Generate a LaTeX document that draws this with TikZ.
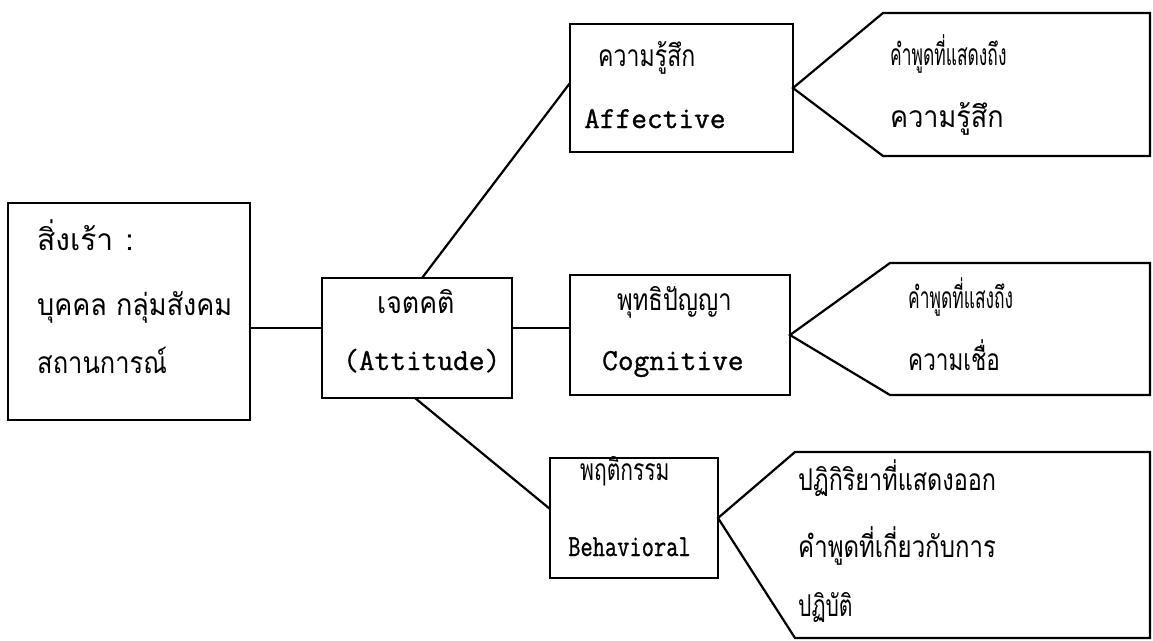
\documentclass[tikz,border=0pt]{standalone}
\usepackage{fontspec}
\newfontfamily\thaifont[Script=Thai]{Loma}
\newfontfamily\typefont[FakeBold=1]{Latin Modern Mono}
\newcommand\hsq[2]{\scalebox{#1}[1]{#2}}
\begin{document}
\begin{tikzpicture}[x=1pt,y=-1pt,
  box/.style={draw=black,line width=2.2pt,inner sep=0pt,outer sep=0pt},
  callout/.style={draw=black,line width=2.2pt,line join=miter},
  link/.style={draw=black,line width=2.2pt},
  th/.style={anchor=base west,inner sep=0pt,font=\thaifont\fontsize{30}{36}\selectfont},
  en/.style={anchor=base west,inner sep=0pt,font=\typefont\fontsize{30.5}{36}\selectfont}]
\useasboundingbox (0,0) rectangle (1153,640);
% boxes
\node[box,minimum width=242pt,minimum height=217pt] (stim) at (129,311.5) {};
\node[box,minimum width=190pt,minimum height=120pt] (att) at (417,338) {};
\node[box,minimum width=223pt,minimum height=128pt] (aff) at (681.5,88) {};
\node[box,minimum width=220pt,minimum height=120pt] (cog) at (680,335) {};
\node[box,minimum width=168pt,minimum height=120pt] (beh) at (634,518) {};
% callouts
\coordinate (a1) at (883,13);  \coordinate (a2) at (1150,13);
\coordinate (a3) at (1150,156); \coordinate (a4) at (883,156);
\draw[callout] (aff.east) -- (a1) -- (a2) -- (a3) -- (a4) -- cycle;
\coordinate (b1) at (890,263);  \coordinate (b2) at (1150,263);
\coordinate (b3) at (1150,395); \coordinate (b4) at (890,395);
\draw[callout] (cog.east) -- (b1) -- (b2) -- (b3) -- (b4) -- cycle;
\coordinate (c1) at (795,452);  \coordinate (c2) at (1150,452);
\coordinate (c3) at (1150,638); \coordinate (c4) at (795,638);
\draw[callout] (beh.east) -- (c1) -- (c2) -- (c3) -- (c4) -- cycle;
% connectors
\coordinate (mid) at (0,328);
\draw[link] (stim.east |- mid) -- (att.west |- mid);
\draw[link] (att.east |- mid) -- (cog.west |- mid);
\draw[link] ([xshift=5pt]att.north) -- ([yshift=5pt]aff.west);
\draw[link] ([xshift=-2pt]att.south) -- ([yshift=9pt]beh.west);
% texts
\node[th] (t1) at (37,250) {สิ่งเร้า\hspace{12pt}:};
\node[th] (t2) at (37,315) {\hsq{0.9}{บุคคล กลุ่มสังคม}};
\node[th] (t3) at (37,373) {\hsq{0.85}{สถานการณ์}};
\node[th] (t4) at (377,313) {\hsq{0.89}{เจตคติ}};
\node[en] (t5) at (343,370) {(Attitude)};
\node[th] (t6) at (598,66) {\hsq{0.77}{ความรู้สึก}};
\node[en] (t7) at (584,128) {Affective};
\node[th] (t8) at (617,310) {\hsq{0.79}{พุทธิปัญญา}};
\node[en] (t9) at (602,370) {Cognitive};
\node[th] (t10) at (580,480) {\hsq{0.7}{พฤติกรรม}};
\node[en] (t11) at (568,556) {\hsq{0.78}{Behavioral}};
\node[th] (t12) at (890,65) {\hsq{0.58}{คำพูดที่แสดงถึง}};
\node[th] (t13) at (890,127) {\hsq{0.9}{ความรู้สึก}};
\node[th] (t14) at (908,308) {\hsq{0.58}{คำพูดที่แสงถึง}};
\node[th] (t15) at (908,370) {\hsq{0.75}{ความเชื่อ}};
\node[th] (t16) at (798,490) {\hsq{0.78}{ปฏิกิริยาที่แสดงออก}};
\node[th] (t17) at (798,557) {\hsq{0.8}{คำพูดที่เกี่ยวกับการ}};
\node[th] (t18) at (798,616) {\hsq{0.7}{ปฏิบัติ}};
\end{tikzpicture}
\end{document}
